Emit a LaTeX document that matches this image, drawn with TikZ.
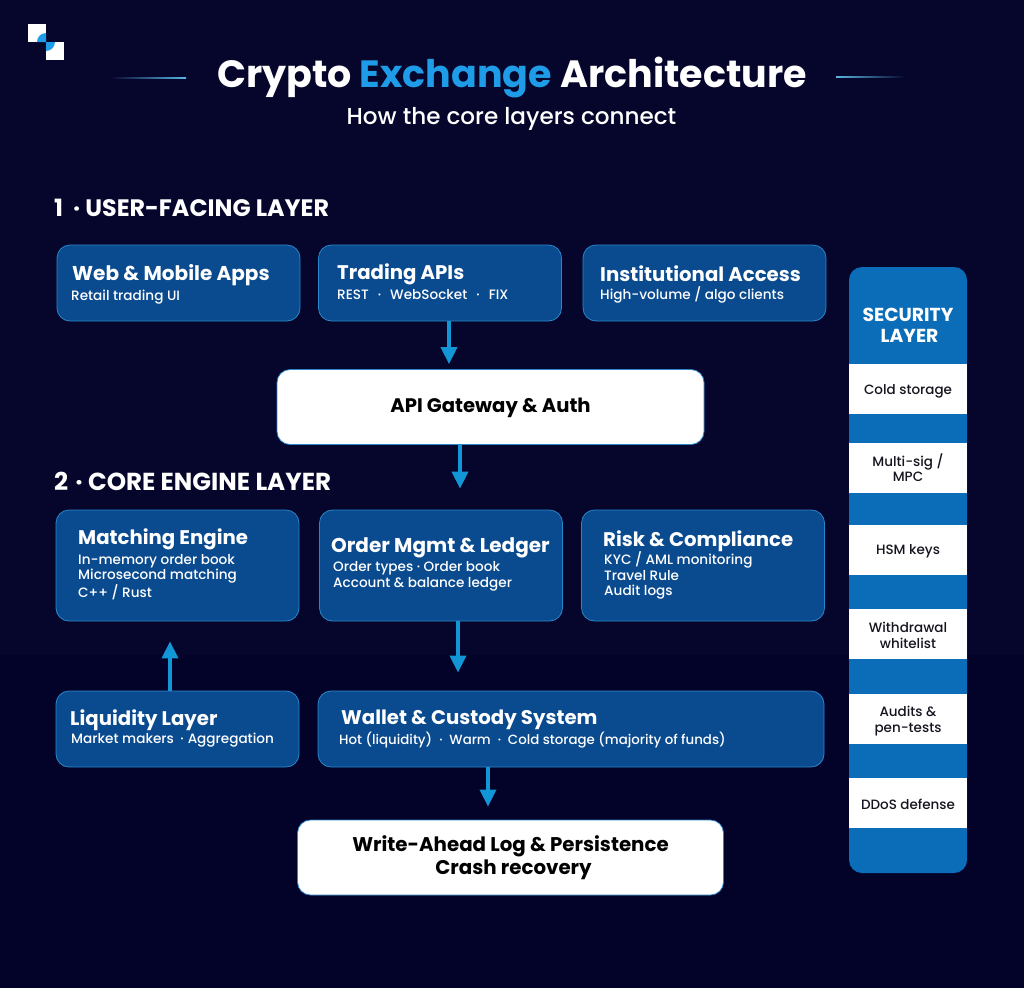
\documentclass[tikz,border=0pt]{standalone}
\usepackage{fontspec}
\setmainfont{Poppins}
\newfontfamily\medfont{Poppins Medium}
\usepackage{xcolor}
\usetikzlibrary{arrows.meta,shadings}

\definecolor{bgtop}{HTML}{06062C}
\definecolor{bgbot}{HTML}{03032A}
\definecolor{cardblue}{HTML}{0A4A8F}
\definecolor{cardline}{HTML}{2A86C8}
\definecolor{secblue}{HTML}{0B6CB8}
\definecolor{arrowblue}{HTML}{1296D6}
\definecolor{titleblue}{HTML}{1E9CE8}
\definecolor{ink}{HTML}{15151F}

\begin{document}
\begin{tikzpicture}[x=1pt,y=-1pt]

\tikzstyle{card}=[draw=cardline,fill=cardblue,rounded corners=13pt,line width=0.8pt,inner sep=0pt]
\tikzstyle{whitebox}=[draw=cardline,fill=white,rounded corners=13pt,line width=0.8pt,inner sep=0pt]
\tikzstyle{strip}=[fill=white,minimum width=118pt,minimum height=50pt,inner sep=0pt]
\tikzstyle{striptext}=[inner sep=0pt,align=center,text=ink,font=\fontsize{13.5}{15.6}\medfont]
\tikzstyle{head}=[anchor=west,text=white,inner sep=0pt,font=\fontsize{19.7}{24}\selectfont\bfseries]
\tikzstyle{widehead}=[head,font=\fontsize{20}{24}\selectfont\bfseries]
\tikzstyle{sub}=[anchor=north west,text=white,inner sep=0pt,align=left,font=\fontsize{13.6}{15.6}\medfont]
\tikzstyle{layerhead}=[anchor=west,text=white,inner sep=0pt,font=\fontsize{23.8}{28}\selectfont\bfseries]
\tikzstyle{flow}=[draw=arrowblue,line width=3.6pt,-{Triangle[length=17pt,width=16pt]}]

\useasboundingbox (0,0) rectangle (1024,988);

%% Background
\fill [bgtop] (0,0) rectangle (1024,655);
\fill [bgbot] (0,655) rectangle (1024,988);

%% Logo
\fill [white] (28,24) rectangle (46,42);
\fill [white] (46,42) rectangle (64,60);
\fill [titleblue] (46,42) -- (46,33) arc [start angle=90,end angle=180,radius=9pt] -- cycle;
\fill [titleblue] (46,42) -- (46,51) arc [start angle=270,end angle=360,radius=9pt] -- cycle;

%% Title
\node (title) [text=white,inner sep=0pt,font=\fontsize{38}{45}\selectfont\bfseries] at (512,78)
    {Crypto \textcolor{titleblue}{Exchange} Architecture};
\node (subtitle) [text=white,inner sep=0pt,font=\fontsize{23.1}{27}\medfont] at (511.5,119)
    {How the core layers connect};
\shade [left color=bgtop,right color=arrowblue!70!white] (110,77.2) rectangle (186,78.8);
\shade [left color=arrowblue!70!white,right color=bgtop] (836,76.2) rectangle (905,77.8);

%% Layer 1
\node (layerone) [layerhead] at (54,208) {1\hspace{5pt} · USER-FACING LAYER};
\node (web) [card,minimum width=243pt,minimum height=76pt] at (178.5,283) {};
\node (webhead) [widehead] at (72,275) {Web \& Mobile Apps};
\node (websub) [sub] at (71,290) {Retail trading UI};
\node (apis) [card,minimum width=243pt,minimum height=76pt] at (440,283) {};
\node (apishead) [head] at (337,274) {Trading APIs};
\node (apissub) [sub] at (337,289) {REST \hspace{5.5pt}·\hspace{5.5pt} WebSocket \hspace{5.5pt}·\hspace{5.5pt} FIX};
\node (inst) [card,minimum width=243pt,minimum height=76pt] at (704.5,283) {};
\node (insthead) [head] at (600,274) {Institutional Access};
\node (instsub) [sub] at (600,286) {High-volume / algo clients};

%% Gateway
\node (gateway) [whitebox,minimum width=427pt,minimum height=75pt,text=black,text height=16pt,text depth=5pt,
    font=\fontsize{19.6}{23}\selectfont\bfseries] at (490.5,407) {API Gateway \& Auth};

%% Layer 2
\node (layertwo) [layerhead,font=\fontsize{24.6}{28}\selectfont\bfseries] at (54,481.5) {2\hspace{2pt} · CORE ENGINE LAYER};
\node (match) [card,minimum width=243pt,minimum height=111pt] at (177.5,565.5) {};
\node (matchhead) [head] at (78,539.5) {Matching Engine};
\node (matchsub) [sub] at (78,554) {In-memory order book\\Microsecond matching\\C++ / Rust};
\node (order) [card,minimum width=243pt,minimum height=111pt] at (441,565.5) {};
\node (orderhead) [widehead] at (331,547.5) {Order Mgmt \& Ledger};
\node (ordersub) [sub] at (333,561.5) {Order types · Order book\\Account \& balance ledger};
\node (risk) [card,minimum width=243pt,minimum height=111pt] at (703,565.5) {};
\node (riskhead) [head] at (603,541) {Risk \& Compliance};
\node (risksub) [sub] at (604,551.5) {KYC / AML monitoring\\Travel Rule\\Audit logs};

%% Lower row
\node (liquid) [card,minimum width=243pt,minimum height=76pt] at (177.5,729) {};
\node (liquidhead) [head] at (70,720.5) {Liquidity Layer};
\node (liquidsub) [sub] at (71,733) {Market makers \hspace{3pt}·\hspace{4pt}Aggregation};
\node (wallet) [card,minimum width=506pt,minimum height=76pt] at (571,729) {};
\node (wallethead) [head] at (341,719.5) {Wallet \& Custody System};
\node (walletsub) [sub,font=\fontsize{13.35}{15.6}\medfont] at (339,732) {Hot (liquidity) ~·~ Warm ~·~ Cold storage (majority of funds)};
\node (wal) [whitebox,minimum width=426pt,minimum height=75pt,text=black,align=center,
    font=\fontsize{19.8}{23}\selectfont\bfseries] at (510.5,857.5) {Write-Ahead Log \& Persistence\\\hspace*{6pt}Crash recovery};

%% Arrows
\draw [flow,shorten >=5pt] ([xshift=9pt]apis.south) -- ([xshift=9pt]apis.south |- gateway.north);
\draw [flow,shorten >=21pt] ([xshift=-30.5pt]gateway.south) -- ([xshift=-30.5pt]gateway.south |- order.north);
\draw [flow,shorten >=18pt] ([xshift=17pt]order.south) -- ([xshift=17pt]order.south |- wallet.north);
\draw [flow,shorten >=20pt] ([xshift=-7.5pt]liquid.north) -- ([xshift=-7.5pt]liquid.north |- match.south);
\draw [flow,shorten >=13pt] ([xshift=-83pt]wallet.south) -- ([xshift=-83pt]wallet.south |- wal.north);

%% Security column
\node (security) [fill=secblue,rounded corners=13pt,minimum width=118pt,minimum height=606pt,inner sep=0pt] at (908,570) {};
\node (sechead) [text=white,align=center,inner sep=0pt,font=\fontsize{18.8}{21}\selectfont\bfseries] at (908,325) {SECURITY\\\hspace*{3pt}LAYER};
\node (cold) [strip] at (908,389) {};
\node (multi) [strip] at (908,468) {};
\node (hsm) [strip] at (908,550) {};
\node (white) [strip] at (908,634) {};
\node (audits) [strip] at (908,719) {};
\node (ddos) [strip] at (908,803) {};
\node (coldtext) [striptext] at (908,391) {Cold storage};
\node (multitext) [striptext] at (908,467.5) {Multi-sig /\\MPC};
\node (hsmtext) [striptext] at (908,551) {HSM keys};
\node (whitetext) [striptext] at (908,635.5) {Withdrawal\\whitelist};
\node (auditstext) [striptext] at (908,721) {Audits \&\\pen-tests};
\node (ddostext) [striptext] at (908,804) {DDoS defense};

\end{tikzpicture}
\end{document}
